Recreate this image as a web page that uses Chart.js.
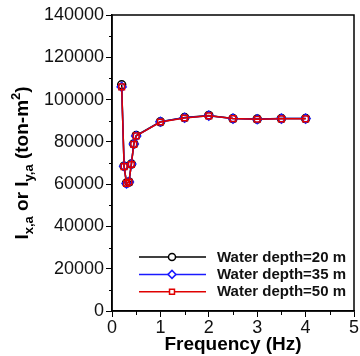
<!DOCTYPE html>
<html>
<head>
<meta charset="utf-8">
<script src="https://cdn.jsdelivr.net/npm/chart.js@4"></script>
<style>
  html, body { margin: 0; padding: 0; background: #fff; }
  #wrap { width: 360px; height: 356px; }
</style>
</head>
<body>
<div id="wrap"><canvas id="chart"></canvas></div>
<script>
// Frequency (Hz)
const freq = [0.2, 0.25, 0.3, 0.35, 0.4, 0.45, 0.5, 1, 1.5, 2, 2.5, 3, 3.5, 4];
// I_x,a or I_y,a (ton-m2)
const depth20 = [107000, 68500, 60500, 61000, 69500, 79000, 83000, 89500, 91500, 92500, 91000, 90800, 91000, 91000];
const depth35 = [106000, 68500, 60300, 61000, 69500, 79000, 82800, 89500, 91400, 92400, 91000, 90700, 91000, 91000];
const depth50 = [106000, 68300, 60400, 61000, 69300, 78800, 82800, 89400, 91300, 92300, 91000, 90700, 90900, 90900];
const seriesNames = ['Water depth=20 m', 'Water depth=35 m', 'Water depth=50 m'];
const xTicks = [0, 1, 2, 3, 4, 5];
const yTicks = [0, 20000, 40000, 60000, 80000, 100000, 120000, 140000];

const FONT = "'Liberation Sans', Arial, sans-serif";

function pts(ys) {
    return freq.map((f, i) => ({x: f, y: ys[i]}));
}

function makeSet(label, ys, color, style, order) {
    return {
        label: label,
        data: pts(ys),
        order: order,
        showLine: true,
        borderColor: color,
        backgroundColor: 'rgba(0,0,0,0)',
        borderWidth: 1.5,
        pointStyle: style,
        pointRadius: style === 'rectRot' ? 4.5 : 4,
        pointBorderColor: color,
        pointBorderWidth: 1.5,
        pointBackgroundColor: 'rgba(0,0,0,0)'
    };
}

// box, minor ticks, y title and legend
const extras = {
    id: 'extras',
    afterDraw(chart) {
        const ctx = chart.ctx;
        const a = chart.chartArea;
        const xs = chart.scales.x, ys = chart.scales.y;
        ctx.save();
        ctx.strokeStyle = '#000';
        ctx.lineWidth = 1.5;
        ctx.strokeRect(a.left, a.top, a.right - a.left, a.bottom - a.top);

        // minor ticks
        ctx.lineWidth = 1;
        ctx.beginPath();
        for (let v = 10000; v < 140000; v += 20000) {
            const py = Math.round(ys.getPixelForValue(v)) + 0.5;
            ctx.moveTo(a.left - 3, py);
            ctx.lineTo(a.left, py);
        }
        for (let v = 0.5; v < 5; v += 1) {
            const px = Math.round(xs.getPixelForValue(v)) + 0.5;
            ctx.moveTo(px, a.bottom);
            ctx.lineTo(px, a.bottom + 4);
        }
        ctx.stroke();

        // y title with sub/superscripts
        const parts = [
            ['I', 'n'], ['x,a', 'sub'], [' or ', 'n'], ['I', 'n'], ['y,a', 'sub'],
            [' (ton-m', 'n'], ['2', 'sup'], [')', 'n']
        ];
        const big = 'bold 19px ' + FONT, small = 'bold 13px ' + FONT;
        let total = 0;
        parts.forEach(p => {
            ctx.font = p[1] === 'n' ? big : small;
            total += ctx.measureText(p[0]).width;
        });
        ctx.translate(28, (a.top + a.bottom) / 2);
        ctx.rotate(-Math.PI / 2);
        ctx.fillStyle = '#000';
        ctx.textBaseline = 'alphabetic';
        ctx.textAlign = 'left';
        let cx = -total / 2;
        parts.forEach(p => {
            ctx.font = p[1] === 'n' ? big : small;
            const dy = p[1] === 'sub' ? 5 : (p[1] === 'sup' ? -8 : 0);
            ctx.fillText(p[0], cx, dy);
            cx += ctx.measureText(p[0]).width;
        });
        ctx.restore();

        // legend
        ctx.save();
        const y0 = 257, step = 17.4;
        [0, 1, 2].forEach(i => {
            const ds = chart.data.datasets[i];
            const ly = y0 + i * step;
            ctx.strokeStyle = ds.borderColor;
            ctx.fillStyle = 'rgba(0,0,0,0)';
            ctx.lineWidth = 1.5;
            ctx.beginPath();
            ctx.moveTo(139, ly);
            ctx.lineTo(206, ly);
            ctx.stroke();
            ctx.fillStyle = '#fff';
            Chart.helpers.drawPoint(ctx, {
                pointStyle: ds.pointStyle,
                radius: ds.pointStyle === 'rectRot' ? 4 : 3.5,
                rotation: 0,
                borderWidth: 1.5
            }, 172, ly);
            ctx.fillStyle = '#111';
            ctx.font = 'bold 15px ' + FONT;
            ctx.textBaseline = 'middle';
            ctx.fillText(seriesNames[i], 217, ly + 0.5);
        });
        ctx.restore();
    }
};

new Chart(document.getElementById('chart'), {
    type: 'scatter',
    data: {
        datasets: [
            makeSet(seriesNames[0], depth20, '#000000', 'circle', 3),
            makeSet(seriesNames[1], depth35, '#1a1aff', 'rectRot', 2),
            makeSet(seriesNames[2], depth50, '#e00000', 'rect', 1)
        ]
    },
    options: {
        responsive: true,
        maintainAspectRatio: false,
        animation: false,
        layout: { padding: { left: 0, right: 3, top: 15, bottom: 0 } },
        plugins: { legend: { display: false }, tooltip: { enabled: false } },
        scales: {
            x: {
                type: 'linear',
                min: 0, max: 5,
                afterBuildTicks: s => { s.ticks = xTicks.map(v => ({value: v})); },
                afterFit: s => { s.height = 45; s.paddingLeft = 0; s.paddingRight = 0; },
                ticks: { color: '#111', font: { family: FONT, size: 18 }, padding: 0, maxRotation: 0,
                         callback: v => String(v) },
                grid: { drawOnChartArea: false, drawTicks: true, tickLength: 6, color: '#000', lineWidth: 1 },
                border: { display: true, color: '#000', width: 1.5 },
                title: {
                    display: true, text: 'Frequency (Hz)', color: '#000',
                    font: { family: FONT, size: 19, weight: 'bold' },
                    padding: { top: 0, bottom: 0 }
                }
            },
            y: {
                type: 'linear',
                min: 0, max: 140000,
                afterBuildTicks: s => { s.ticks = yTicks.map(v => ({value: v})); },
                afterFit: s => { s.width = 112; s.paddingTop = 0; s.paddingBottom = 0; },
                ticks: { color: '#111', font: { family: FONT, size: 18 }, padding: 2,
                         callback: v => String(v) },
                grid: { drawOnChartArea: false, drawTicks: true, tickLength: 6, color: '#000', lineWidth: 1 },
                border: { display: true, color: '#000', width: 1.5 }
            }
        }
    },
    plugins: [extras]
});
</script>
</body>
</html>
